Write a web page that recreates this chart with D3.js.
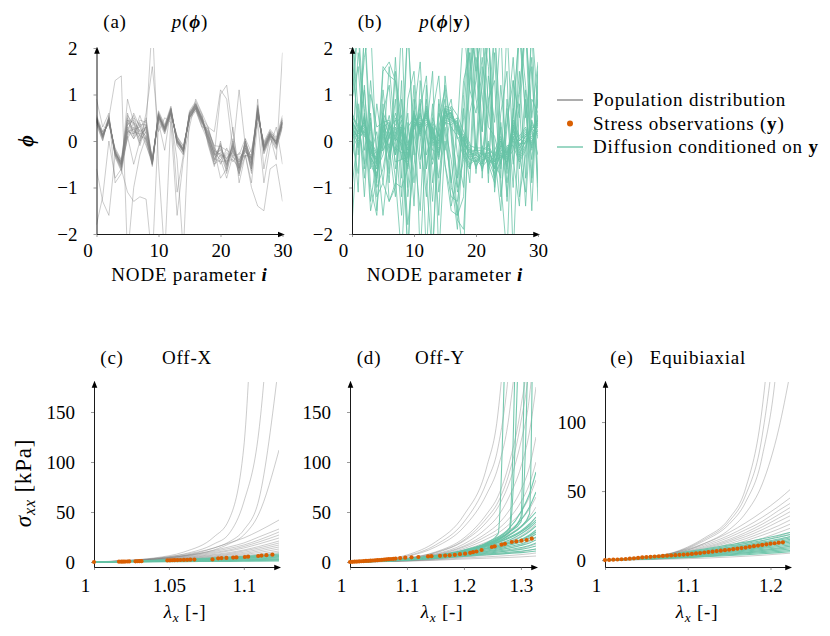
<!DOCTYPE html>
<html lang="en">
<head>
<meta charset="UTF-8">
<title>Population distribution vs diffusion samples</title>
<script src="https://cdn.jsdelivr.net/npm/d3@7"></script>
<style>
  body { margin: 0; background: #fff; }
  svg { font-family: "Liberation Serif", "DejaVu Serif", serif; }
  .word { letter-spacing: 0.8px; }
</style>
</head>
<body>
<div id="chart"></div>
<script>
// ---------- data: NODE parameter samples (panels a, b) ----------
var nodeIdx = [0,1,2,3,4,5,6,7,8,9,10,11,12,13,14,15,16,17,18,19,20,21,22,23,24,25,26,27,28,29,30];
var nodeTicks = [0, 10, 20, 30];
var phiTicks = [-2, -1, 0, 1, 2];
var phiTickLabels = ["\u22122", "\u22121", "0", "1", "2"];

// population samples p(phi)
var popSamples = [
  [0.50,0.12,0.42,-0.22,-0.48,0.35,0.55,0.10,0.30,-0.40,0.52,0.22,0.62,0.05,-0.18,0.50,0.72,0.42,0.15,-0.28,-0.15,-0.40,-0.10,-0.45,-0.05,-0.40,0.60,-0.10,0.18,-0.02,0.42],
  [0.40,0.08,0.48,-0.30,-0.55,0.20,0.15,0.40,0.05,-0.50,0.58,0.28,0.68,-0.05,-0.22,0.58,0.78,0.50,0.05,-0.35,-0.25,-0.50,-0.20,-0.55,-0.15,-0.50,0.70,-0.20,0.12,-0.08,0.38],
  [0.48,0.15,0.40,-0.20,-0.42,0.45,0.25,0.30,0.45,-0.42,0.50,0.20,0.60,0.02,-0.15,0.52,0.70,0.38,0.20,-0.20,-0.30,-0.35,-0.25,-0.40,-0.20,-0.38,0.58,-0.05,0.20,0.05,0.48],
  [0.42,0.05,0.50,-0.28,-0.58,0.10,0.40,0.00,0.20,-0.48,0.60,0.30,0.70,-0.02,-0.25,0.60,0.80,0.55,0.00,-0.45,-0.10,-0.55,-0.05,-0.62,0.00,-0.55,0.72,-0.22,0.10,-0.12,0.35],
  [0.46,0.10,0.45,-0.25,-0.50,0.30,0.05,0.25,0.10,-0.45,0.55,0.25,0.65,0.00,-0.20,0.55,0.75,0.45,0.25,-0.15,-0.35,-0.30,-0.30,-0.35,-0.25,-0.30,0.65,-0.15,0.15,-0.05,0.40],
  [0.52,0.18,0.38,-0.18,-0.45,0.55,0.35,-0.10,0.35,-0.38,0.48,0.18,0.58,0.08,-0.12,0.48,0.68,0.35,0.08,-0.40,-0.05,-0.60,0.00,-0.65,-0.10,-0.60,0.55,-0.08,0.22,0.02,0.50],
  [0.38,0.02,0.52,-0.32,-0.62,0.25,0.50,0.35,-0.05,-0.52,0.62,0.32,0.72,-0.08,-0.28,0.62,0.82,0.48,0.12,-0.25,-0.40,-0.25,-0.35,-0.45,-0.30,-0.35,0.75,-0.25,0.08,-0.15,0.32],
  [0.44,0.12,0.44,-0.24,-0.52,0.40,0.20,0.15,0.25,-0.44,0.54,0.24,0.64,0.01,-0.19,0.54,0.74,0.44,0.18,-0.32,-0.18,-0.48,-0.12,-0.52,-0.08,-0.48,0.62,-0.12,0.16,-0.04,0.44],
  [0.50,0.08,0.46,-0.26,-0.46,0.15,0.60,0.30,0.00,-0.46,0.56,0.26,0.66,-0.01,-0.21,0.56,0.76,0.52,-0.05,-0.50,-0.30,-0.65,-0.18,-0.70,-0.15,-0.65,0.68,-0.18,0.14,-0.06,0.38],
  [0.42,0.14,0.43,-0.23,-0.49,0.50,0.10,0.45,0.40,-0.47,0.53,0.23,0.63,0.03,-0.17,0.53,0.73,0.40,0.22,-0.10,-0.12,-0.20,-0.28,-0.30,0.05,-0.25,0.63,-0.13,0.17,0.00,0.45],
  [0.47,0.11,0.47,-0.27,-0.53,0.05,0.30,-0.05,0.50,-0.43,0.57,0.27,0.67,-0.03,-0.23,0.57,0.77,0.46,0.02,-0.38,-0.45,-0.42,-0.40,-0.58,-0.22,-0.42,0.66,-0.16,0.13,-0.07,0.41],
  [0.45,0.09,0.45,-0.25,-0.51,0.35,0.45,0.20,-0.10,-0.45,0.55,0.25,0.65,0.00,-0.20,0.55,0.75,0.45,0.10,-0.30,-0.20,-0.45,-0.15,-0.50,-0.10,-0.45,0.65,-0.15,0.15,-0.05,0.40],
  [0.55,0.20,0.35,-0.15,-0.40,0.60,0.15,0.55,0.15,-0.35,0.45,0.15,0.55,0.10,-0.10,0.45,0.65,0.30,0.28,-0.12,-0.50,-0.15,-0.45,-0.25,-0.35,-0.20,0.50,-0.02,0.25,0.08,0.55],
  [0.35,0.00,0.55,-0.35,-0.65,0.20,0.25,0.05,0.30,-0.55,0.65,0.35,0.75,-0.10,-0.30,0.65,0.85,0.58,-0.08,-0.55,0.00,-0.70,0.05,-0.75,0.05,-0.70,0.78,-0.28,0.05,-0.18,0.30],
  [0.48,0.06,0.49,-0.21,-0.56,0.45,0.40,0.10,0.05,-0.41,0.59,0.21,0.61,0.04,-0.24,0.51,0.71,0.43,0.16,-0.22,-0.28,-0.38,-0.22,-0.42,-0.18,-0.52,0.61,-0.11,0.19,-0.09,0.46],
  [0.43,0.13,0.41,-0.29,-0.44,0.25,0.05,0.35,0.35,-0.49,0.51,0.29,0.69,-0.04,-0.16,0.59,0.79,0.47,0.06,-0.42,-0.08,-0.52,-0.08,-0.58,-0.02,-0.38,0.69,-0.19,0.11,-0.01,0.36],
  [0.40,0.20,0.50,1.30,1.40,-2.50,-1.00,-0.30,0.10,-0.50,0.50,0.30,0.60,0.10,-0.20,0.50,0.70,0.40,0.10,-0.30,1.00,1.20,0.20,-0.60,0.00,-0.40,0.60,-0.20,0.10,0.00,0.40],
  [-0.60,-1.30,-1.60,-0.30,-0.60,-1.10,-1.30,-1.20,-1.25,-2.60,0.40,-0.20,0.70,-1.10,-0.30,0.50,0.70,0.30,0.00,-0.50,-0.40,-0.80,-0.30,-0.70,-0.30,-1.00,-1.40,-1.50,-0.60,-0.50,-1.30],
  [-1.80,-1.20,0.00,-0.80,-0.60,0.90,0.40,0.20,0.30,2.60,-0.50,-2.50,0.50,-0.40,-2.40,0.60,0.80,0.50,0.30,0.20,1.10,0.90,-0.20,1.10,-0.10,-0.60,0.90,-0.60,0.10,-0.40,1.90],
  [0.90,0.30,0.60,-0.90,-0.70,0.10,-0.50,0.00,0.60,1.60,0.20,0.50,0.40,-1.60,-0.40,0.30,0.90,0.60,0.30,-0.20,-0.80,-0.60,0.30,-0.90,-0.30,-0.90,0.40,-0.90,-0.10,0.30,-0.50]
];

// diffusion samples conditioned on y, p(phi|y)
var diffSamples = [
  [0.40,0.15,0.35,-0.10,-0.45,0.30,0.40,0.00,0.20,-0.20,0.50,0.25,0.60,0.05,-0.05,0.65,0.60,0.25,0.00,-0.25,-0.20,-0.30,-0.25,-0.45,-0.10,-0.30,0.25,-0.10,0.10,0.15,0.40],
  [0.20,-0.05,0.45,-0.35,-0.60,0.10,-0.10,0.30,-0.15,-0.45,0.35,0.40,0.45,0.20,-0.25,0.50,0.45,0.40,-0.15,-0.40,-0.35,-0.50,-0.15,-0.60,-0.30,-0.45,0.10,-0.30,0.00,0.25,0.20],
  [0.55,0.25,0.20,-0.05,-0.30,0.45,0.15,-0.20,0.35,-0.10,0.60,0.15,0.70,-0.05,0.05,0.70,0.65,0.15,0.10,-0.15,-0.45,-0.20,-0.45,-0.35,0.00,-0.55,0.35,0.00,0.20,-0.05,0.50],
  [0.30,0.05,0.50,-0.40,-0.70,-0.10,0.25,0.45,0.00,-0.55,0.40,0.35,0.50,0.25,-0.30,0.55,0.50,0.35,-0.30,-0.55,-0.10,-0.60,-0.05,-0.70,-0.20,-0.25,0.05,-0.35,-0.10,0.30,0.25],
  [0.45,0.00,0.25,-0.25,-0.40,0.55,-0.25,0.10,0.45,-0.35,0.55,0.20,0.65,0.00,-0.15,0.62,0.58,0.20,0.05,-0.35,-0.30,-0.40,-0.35,-0.55,-0.05,-0.40,0.30,-0.20,0.15,0.05,0.45],
  [0.10,0.20,0.40,-0.15,-0.55,0.00,0.55,-0.15,-0.25,-0.25,0.30,0.45,0.40,0.30,-0.20,0.45,0.40,0.50,-0.10,-0.20,-0.55,-0.25,-0.50,-0.40,-0.35,-0.20,0.15,-0.05,-0.05,0.35,0.15],
  [0.60,0.30,0.15,-0.30,-0.35,0.35,0.05,0.60,0.10,-0.15,0.65,0.10,0.75,-0.10,0.00,0.75,0.70,0.05,0.15,-0.10,-0.15,-0.15,-0.20,-0.30,0.05,-0.60,0.40,0.05,0.25,-0.10,0.55],
  [0.35,-0.10,0.55,-0.45,-0.75,0.25,-0.35,0.20,-0.35,-0.50,0.45,0.50,0.35,0.35,-0.35,0.40,0.35,0.45,-0.25,-0.50,-0.40,-0.55,-0.40,-0.75,-0.40,-0.15,0.00,-0.40,-0.15,0.40,0.10],
  [0.25,0.10,0.30,-0.20,-0.50,0.60,0.30,-0.30,0.25,-0.40,0.50,0.30,0.55,0.10,-0.10,0.60,0.55,0.30,-0.05,-0.30,-0.25,-0.35,-0.30,-0.50,-0.15,-0.35,0.20,-0.15,0.05,0.10,0.35],
  [0.50,0.35,0.10,0.00,-0.25,-0.20,0.10,0.35,0.55,-0.05,0.25,0.55,0.30,0.40,0.10,0.35,0.75,0.55,0.20,-0.05,-0.60,-0.10,-0.55,-0.20,0.10,-0.50,0.45,0.10,0.30,-0.15,0.60],
  [0.15,-0.15,0.60,-0.50,-0.80,0.40,0.45,0.05,-0.05,-0.60,0.55,0.20,0.60,0.15,-0.40,0.68,0.30,0.10,-0.35,-0.60,-0.05,-0.65,0.00,-0.80,-0.45,-0.10,-0.10,-0.45,-0.20,0.45,0.05],
  [0.45,0.15,0.35,-0.15,-0.45,0.15,-0.15,0.25,0.30,-0.30,0.40,0.35,0.50,0.05,-0.05,0.55,0.60,0.35,0.00,-0.25,-0.30,-0.45,-0.25,-0.45,-0.10,-0.30,0.25,-0.10,0.10,0.20,0.30],
  [0.30,0.05,0.20,-0.35,-0.60,-0.30,0.35,-0.45,-0.40,-0.35,0.35,0.30,0.55,-0.20,-0.25,0.50,0.62,0.25,-0.20,-0.40,-0.45,-0.30,-0.35,-0.60,-0.25,-0.45,0.10,-0.25,0.00,0.00,0.25],
  [0.40,0.20,0.40,-0.05,-0.40,0.50,-0.40,0.50,0.15,-0.20,0.60,0.25,0.65,0.20,0.00,0.65,0.50,0.40,0.10,-0.20,-0.20,-0.20,-0.10,-0.35,0.00,-0.25,0.35,0.00,0.15,0.25,0.45],
  [1.20,2.50,0.50,-1.50,-0.80,1.50,1.70,1.30,0.50,-2.50,0.30,0.60,0.10,-0.50,0.20,0.70,0.30,-0.80,0.50,2.50,1.50,2.50,0.80,-0.60,0.30,-1.20,0.60,2.40,0.50,1.80,-1.30],
  [-1.80,0.30,1.80,2.50,-0.50,1.60,1.40,1.30,-0.80,2.50,-0.20,-1.50,1.20,-2.50,0.50,1.10,-1.00,-1.40,-2.50,1.50,2.50,0.20,2.50,-0.30,-1.50,0.90,-0.50,1.00,2.50,-0.80,1.60],
  [2.50,-0.30,1.20,-1.00,-1.60,0.80,-1.30,-0.90,-1.00,-0.60,1.20,-2.50,0.20,1.50,-2.50,0.00,-0.80,-1.90,0.10,-0.90,1.80,1.00,-0.70,1.90,-0.90,-2.50,1.30,-1.20,-0.30,2.50,-0.90],
  [0.90,1.60,-0.20,0.60,-1.20,-0.90,-1.30,-1.00,1.30,-2.50,0.90,0.10,-1.20,0.60,1.40,-0.50,-1.50,-1.60,1.00,2.50,-0.30,2.50,1.60,-1.00,0.60,1.50,-2.50,0.80,-1.40,0.90,0.60],
  [0.00,-0.70,2.50,-0.30,0.20,-0.90,0.40,-0.30,2.50,-1.20,0.00,0.90,-0.90,-2.50,0.80,-0.50,-1.20,-1.30,-0.20,1.20,2.50,-0.80,1.40,0.40,2.50,-1.30,0.70,-0.60,1.10,-1.50,1.50],
  [-0.40,0.80,-1.20,1.00,0.30,0.40,-0.90,1.80,-0.40,0.60,-1.40,1.30,-0.30,0.20,-1.60,1.40,0.10,-1.60,-1.20,1.90,-0.70,1.60,-0.90,2.50,-0.60,0.70,-1.00,2.50,0.60,-0.40,0.90],
  [2.50,0.60,-0.80,0.40,-1.00,-0.60,0.20,-0.80,-2.50,0.30,0.50,-0.60,0.90,-0.40,0.60,0.20,-0.90,0.30,2.50,1.10,0.60,1.80,0.30,0.10,-0.50,0.40,1.30,0.50,2.50,0.20,-0.30],
  [-0.30,1.90,0.70,-1.30,-0.40,0.60,1.20,-0.60,0.30,-1.80,-0.50,0.40,-0.60,0.80,-1.10,0.30,-0.40,-1.70,-1.90,0.60,1.30,2.50,-0.50,-0.90,1.20,-0.40,-0.20,1.50,-0.80,2.50,0.70],
  [0.60,-1.10,2.50,0.20,-1.50,0.30,-0.70,1.50,-0.20,2.50,-0.30,0.80,-2.50,0.50,0.10,1.20,0.20,-1.10,-0.40,2.50,0.90,0.20,2.50,-0.40,-0.80,2.50,-0.40,-1.40,0.90,-0.90,1.20],
  [1.60,0.40,-0.50,1.30,-0.20,-1.60,-0.30,0.90,-1.20,0.90,1.50,-0.40,0.30,-1.30,0.90,-0.20,0.60,-1.00,0.70,-0.60,2.50,-0.30,0.90,1.30,-1.20,0.30,1.80,-0.30,-1.10,1.60,-1.00],
  [-1.00,0.20,1.10,-0.60,0.80,-0.20,1.60,0.10,-1.60,0.40,-0.90,0.70,1.40,-0.90,0.30,0.90,-1.40,-0.70,1.30,1.90,-0.20,1.20,2.50,-1.10,0.40,-0.70,0.50,2.50,1.20,-0.20,0.40],
  [0.80,2.50,-0.60,0.50,-0.90,1.10,-0.10,-1.20,0.90,-1.00,0.60,1.70,-0.60,0.30,-0.80,0.50,0.90,-0.30,-1.00,2.50,1.70,-0.50,0.60,2.50,0.10,-0.90,0.20,1.10,2.50,0.50,1.70]
];

// ---------- data: stress-stretch curves (panels c, d, e) ----------
var stressTicks = [0, 50, 100, 150];
var offXTicks = [1, 1.05, 1.1], offXTickLabels = ["1", "1.05", "1.1"];
var offYTicks = [1, 1.1, 1.2, 1.3], offYTickLabels = ["1", "1.1", "1.2", "1.3"];
var equiTicks = [1, 1.1, 1.2], equiTickLabels = ["1", "1.1", "1.2"];
var equiStressTicks = [0, 50, 100];

// Off-X
var offXStretch = [1.00, 1.02, 1.04, 1.06, 1.08, 1.09, 1.10, 1.11, 1.1235];
var offXPop = [
  [0, 1.5, 4, 10, 25, 42, 115, 400, 800],
  [0, 1.2, 3.5, 8, 18, 28, 60, 130, 400],
  [0, 1, 3, 6.5, 14, 20, 32, 62, 200],
  [0, 1, 2.8, 6, 12, 18, 27, 48, 112],
  [0, 1.2, 3.5, 7.5, 14, 19, 24, 31, 42],
  [0, 1, 3, 6.5, 11.5, 15, 19, 25, 33],
  [0, 0.9, 2.8, 6, 10.5, 13.5, 17, 22, 30],
  [0, 0.8, 2.5, 5.5, 9.5, 12, 15.5, 20, 27],
  [0, 0.8, 2.2, 5, 8.5, 11, 14, 18, 24],
  [0, 0.7, 2, 4.5, 7.5, 9.5, 12, 15.5, 21],
  [0, 0.6, 1.8, 4, 6.8, 8.5, 11, 14, 19],
  [0, 0.6, 1.7, 3.6, 6, 7.6, 9.7, 12.5, 17],
  [0, 0.5, 1.5, 3.2, 5.4, 6.8, 8.5, 11, 15],
  [0, 0.5, 1.3, 2.8, 4.6, 5.8, 7.4, 9.5, 13],
  [0, 0.4, 1.1, 2.4, 4, 5, 6.3, 8, 11],
  [0, 0.3, 1, 2, 3.4, 4.3, 5.4, 7, 9.5],
  [0, 0.3, 0.8, 1.7, 2.9, 3.6, 4.6, 5.9, 8],
  [0, 0.3, 0.7, 1.4, 2.4, 3, 3.8, 4.8, 6.5]
];
var offXDiff = [
  [0, 0.1, 0.22, 0.36, 0.52, 0.62, 0.72, 0.83, 1],
  [0, 0.18, 0.4, 0.65, 0.94, 1.1, 1.3, 1.5, 1.8],
  [0, 0.25, 0.55, 0.9, 1.3, 1.55, 1.8, 2.1, 2.5],
  [0, 0.32, 0.7, 1.15, 1.66, 2, 2.3, 2.65, 3.2],
  [0, 0.4, 0.9, 1.45, 2.1, 2.5, 2.9, 3.3, 4],
  [0, 0.48, 1.05, 1.7, 2.5, 3, 3.45, 4, 4.8],
  [0, 0.55, 1.2, 2, 2.85, 3.4, 3.95, 4.55, 5.5],
  [0, 0.63, 1.4, 2.25, 3.3, 3.9, 4.55, 5.2, 6.3],
  [0, 0.7, 1.55, 2.5, 3.65, 4.35, 5.05, 5.8, 7],
  [0, 0.8, 1.75, 2.9, 4.15, 4.95, 5.75, 6.65, 8]
];
var offXObsStretch = [1.000,1.0167,1.0183,1.0195,1.0207,1.0222,1.0235,1.0277,1.0290,1.0303,1.0317,1.0490,1.0507,1.0522,1.0537,1.0557,1.0577,1.0600,1.0622,1.0643,1.0670,1.0791,1.0829,1.0851,1.0884,1.0929,1.0951,1.1007,1.1029,1.1096,1.1118,1.1151,1.1191];
var offXObsStress = [0,0.3,0.35,0.4,0.45,0.5,0.55,0.7,0.75,0.8,0.85,1.6,1.7,1.75,1.8,1.9,2.0,2.1,2.2,2.3,2.4,2.6,3.7,3.9,4.1,4.4,4.6,5.0,5.3,6.0,6.4,6.8,7.3];

// Off-Y
var offYStretch = [1.00, 1.05, 1.10, 1.15, 1.20, 1.24, 1.26, 1.28, 1.30, 1.315, 1.3265];
var offYPop = [
  [0, 2, 7, 20, 47, 95, 150, 300, 600, 1000, 1200],
  [0, 1.6, 5.5, 15, 35, 68, 95, 150, 280, 500, 800],
  [0, 1.2, 4, 10, 24, 48, 66, 100, 155, 230, 400],
  [0, 1.1, 3.5, 9, 21, 40, 55, 80, 120, 165, 240],
  [0, 1, 3.2, 8, 18, 34, 46, 66, 95, 130, 175],
  [0, 1, 3, 7.5, 16, 29, 38, 52, 72, 95, 125],
  [0, 0.9, 2.8, 7, 15, 26, 33, 44, 60, 78, 100],
  [0, 0.9, 2.6, 6.5, 13.5, 23, 29, 38, 50, 65, 82],
  [0, 0.8, 2.4, 6, 12, 20, 25, 32, 42, 53, 65],
  [0, 0.8, 2.2, 5.5, 11, 18, 22, 28, 36, 45, 55],
  [0, 0.7, 2, 5, 10, 15.5, 19, 24, 30, 37, 45],
  [0, 0.7, 1.9, 4.6, 9, 14, 17, 21, 26, 32, 38],
  [0, 0.6, 1.7, 4, 8, 12, 14, 17, 21, 25, 30],
  [0, 0.6, 1.6, 3.6, 7, 10, 12, 14, 17, 20.5, 24],
  [0, 0.5, 1.4, 3.2, 6, 8.5, 9.8, 11.5, 13.5, 15.8, 18],
  [0, 0.4, 1.2, 2.7, 5, 6.8, 7.7, 8.8, 10.2, 11.6, 13],
  [0, 0.3, 1, 2.2, 4, 5.2, 5.8, 6.5, 7.4, 8.2, 9],
  [0, 0.3, 0.8, 1.7, 3, 3.8, 4.2, 4.6, 5.1, 5.6, 6],
  [0, 1.8, 6, 17, 40, 80, 115, 200, 380, 700, 1000],
  [0, 1.1, 3.7, 9.5, 22, 44, 60, 90, 140, 200, 300]
];
var offYDiff = [
  [0, 1, 3, 6, 11, 17, 21, 27, 35, 43, 50],
  [0, 1, 3, 6, 10.5, 16, 19.5, 25, 31, 38, 45],
  [0, 0.9, 2.8, 5.6, 10, 15, 18, 22, 28, 34, 40],
  [0, 0.9, 2.7, 5.4, 9.5, 14, 16.5, 20, 25, 30.5, 36],
  [0, 0.9, 2.6, 5.2, 9, 13, 15, 18.5, 22.5, 27, 32],
  [0, 0.8, 2.5, 5, 8.5, 12, 14, 17, 20, 24, 28],
  [0, 0.8, 2.4, 4.8, 8, 11, 13, 15.5, 18, 21.5, 25],
  [0, 0.8, 2.3, 4.5, 7.5, 10.5, 12, 14, 16.5, 19, 22],
  [0, 0.7, 2.2, 4.3, 7, 9.5, 11, 12.5, 14.5, 16.5, 19],
  [0, 0.7, 2.1, 4, 6.5, 8.8, 10, 11.2, 12.6, 14.2, 16],
  [0, 0.7, 2, 3.8, 6, 8, 8.8, 9.8, 10.8, 12, 13],
  [0, 0.6, 1.9, 3.5, 5.5, 7.2, 7.9, 8.6, 9.4, 10.2, 11],
  [0, 1, 3.1, 6.2, 11, 16.5, 20, 24, 30, 36, 42],
  [0, 0.9, 2.6, 5.3, 9.2, 13.5, 15.5, 19, 22, 26, 30],
  [0, 1, 3.2, 6.5, 12, 19, 25, 34, 50, 68, 90],
  [0, 1, 3, 6.2, 11.5, 18, 23, 30, 42, 55, 70],
  [0, 1, 3, 6, 11, 19, 28, 400, 800, 1000, 1200],
  [0, 1, 3, 6, 11, 18, 24, 34, 500, 900, 1200],
  [0, 1, 3, 6, 11, 17, 22, 30, 45, 600, 1000],
  [0, 1, 3, 6, 11, 17, 22, 30, 40, 300, 1000],
  [0, 1, 3, 6, 10.5, 16, 20, 27, 35, 48, 600],
  [0, 1, 3, 6, 11, 18, 23, 31, 300, 700, 1000]
];
var offYObsStretch = [1.000,1.004,1.008,1.012,1.016,1.020,1.024,1.028,1.032,1.036,1.040,1.044,1.048,1.052,1.056,1.060,1.064,1.068,1.072,1.076,1.080,1.088,1.097,1.108,1.120,1.137,1.143,1.158,1.167,1.175,1.184,1.193,1.202,1.211,1.216,1.222,1.231,1.249,1.254,1.266,1.272,1.284,1.292,1.301,1.310,1.319];
var offYObsStress = [0,0.15,0.3,0.45,0.6,0.75,0.9,1.05,1.2,1.35,1.5,1.65,1.8,2.0,2.2,2.4,2.6,2.8,3.0,3.2,3.4,3.9,4.3,4.7,5.0,5.6,5.8,6.2,6.4,6.7,7.2,7.8,8.3,9.2,9.8,10.5,12.0,15.0,15.7,17.3,18.2,20.0,20.6,21.3,22.0,23.3];

// Equibiaxial
var equiStretch = [1.00, 1.04, 1.08, 1.12, 1.15, 1.17, 1.19, 1.21, 1.2236];
var equiPop = [
  [0, 1.2, 5, 16, 30, 52, 110, 250, 400],
  [0, 1.1, 4.7, 15, 28, 47, 90, 200, 350],
  [0, 1.1, 4.5, 14, 26, 42, 75, 160, 300],
  [0, 1, 4, 12, 22, 34, 55, 95, 135],
  [0, 1.5, 5, 12, 20, 27, 35, 44, 51],
  [0, 1.4, 4.6, 11, 18, 24, 31, 39, 45],
  [0, 1.3, 4.2, 10, 16.5, 22, 28, 36, 41],
  [0, 1.2, 4, 9.2, 15, 20, 26, 33, 38],
  [0, 1.1, 3.7, 8.5, 14, 18.5, 24, 30.5, 35],
  [0, 1, 3.4, 7.8, 13, 17, 22, 28, 32],
  [0, 1, 3.1, 7, 11.8, 15.5, 20, 25, 29],
  [0, 0.9, 2.8, 6.4, 10.5, 14, 18, 22.5, 26],
  [0, 0.8, 2.5, 5.7, 9.3, 12.3, 15.7, 20, 23],
  [0, 0.7, 2.2, 5, 8.2, 10.8, 13.7, 17.4, 20],
  [0, 0.6, 1.9, 4.3, 7, 9.2, 11.6, 14.8, 17],
  [0, 0.5, 1.6, 3.6, 5.8, 7.6, 9.6, 12.2, 14],
  [0, 0.4, 1.2, 2.6, 4.2, 5.4, 6.9, 8.7, 10],
  [0, 0.2, 0.7, 1.4, 2.2, 2.8, 3.5, 4.4, 5]
];
var equiDiff = [
  [0, 0.54, 1.3, 2.4, 3.3, 3.9, 4.6, 5.4, 6],
  [0, 0.63, 1.5, 2.8, 3.85, 4.55, 5.4, 6.3, 7],
  [0, 0.72, 1.75, 3.2, 4.4, 5.2, 6.15, 7.2, 8],
  [0, 0.8, 2, 3.6, 4.95, 5.85, 6.9, 8.1, 9],
  [0, 0.9, 2.2, 4, 5.5, 6.5, 7.7, 9, 10],
  [0, 1, 2.4, 4.4, 6, 7.15, 8.5, 9.9, 11],
  [0, 1.1, 2.6, 4.8, 6.6, 7.8, 9.2, 10.8, 12],
  [0, 1.2, 2.85, 5.2, 7.15, 8.45, 10, 11.7, 13],
  [0, 1.25, 3.1, 5.6, 7.7, 9.1, 10.8, 12.6, 14],
  [0, 1.35, 3.3, 6, 8.25, 9.75, 11.55, 13.5, 15],
  [0, 1.45, 3.5, 6.4, 8.8, 10.4, 12.3, 14.4, 16],
  [0, 1.5, 3.75, 6.8, 9.35, 11.05, 13.1, 15.3, 17],
  [0, 1.65, 4.05, 7.4, 10.2, 12, 14.2, 16.6, 18.5],
  [0, 1.8, 4.4, 8, 11, 13, 15.4, 18, 20]
];
var equiObsStretch = [1.000,1.005,1.010,1.015,1.020,1.025,1.030,1.035,1.040,1.045,1.050,1.055,1.060,1.065,1.070,1.075,1.080,1.085,1.090,1.095,1.100,1.105,1.110,1.115,1.120,1.125,1.130,1.135,1.140,1.145,1.150,1.155,1.160,1.165,1.170,1.175,1.180,1.185,1.190,1.195,1.200,1.205,1.210,1.215];
var equiObsStress = [0,0.15,0.3,0.45,0.6,0.8,1.0,1.3,1.6,1.9,2.2,2.4,2.6,2.8,3.0,3.2,3.4,3.6,3.8,4.0,4.2,4.5,4.8,5.1,5.5,5.8,6.1,6.5,6.8,7.2,7.5,7.9,8.3,8.7,9.1,9.6,10.1,10.5,11.0,11.4,11.9,12.2,12.6,12.9];

// ---------- drawing ----------
var grayCol = "#808080", greenCol = "#66c2a5", orangeCol = "#d95f02";
var W = 830, H = 636;
var FS = 19;

var svg = d3.select("#chart").append("svg")
    .attr("width", W)
    .attr("height", H);
svg.append("rect").attr("width", W).attr("height", H).attr("fill", "#fff");

var defs = svg.append("defs");
defs.append("marker")
    .attr("id", "arrow")
    .attr("viewBox", "0 -4 8 8")
    .attr("refX", 6)
    .attr("refY", 0)
    .attr("markerWidth", 7)
    .attr("markerHeight", 7)
    .attr("markerUnits", "userSpaceOnUse")
    .attr("orient", "auto")
    .append("path")
    .attr("d", "M0,-3.2L8,0L0,3.2Z")
    .attr("fill", "#000");

// write text from [string, style] parts; style flags: i italic, b bold, s subscript
function rich(sel, parts) {
  var shift = 0;
  parts.forEach(function(p) {
    var s = p[1] || "";
    var t = sel.append("tspan").text(p[0]);
    if (s.indexOf("i") >= 0) t.attr("font-style", "italic");
    if (s.indexOf("b") >= 0) t.attr("font-weight", "bold");
    if (s.indexOf("s") >= 0) {
      t.attr("font-size", "0.7em");
      if (shift === 0) { t.attr("dy", 4); shift = 4; }
    } else if (shift !== 0) {
      t.attr("dy", -shift); shift = 0;
    }
  });
  return sel;
}

function label(x, y, parts, anchor) {
  return rich(svg.append("text").attr("class", "word")
      .attr("x", x).attr("y", y)
      .attr("text-anchor", anchor || "middle")
      .attr("font-size", FS), parts);
}

function drawAxes(x, y, opt) {
  var xg = svg.append("g")
      .attr("transform", "translate(0," + y.range()[0] + ")")
      .call(d3.axisBottom(x).tickValues(opt.xt)
        .tickFormat(function(d, i) { return opt.xl[i]; })
        .tickSize(3).tickSizeOuter(0).tickPadding(opt.xpad));
  var yg = svg.append("g")
      .attr("transform", "translate(" + x.range()[0] + ",0)")
      .call(d3.axisLeft(y).tickValues(opt.yt)
        .tickFormat(function(d, i) { return opt.yl[i]; })
        .tickSize(3).tickSizeOuter(0).tickPadding(16));
  [xg, yg].forEach(function(g) {
    g.attr("font-family", null).attr("font-size", FS);
    g.select(".domain").attr("stroke", "#000").attr("stroke-width", 0.9)
      .attr("marker-end", "url(#arrow)");
    g.selectAll(".tick line").attr("stroke", "#555").attr("stroke-width", 0.6);
    g.selectAll(".tick text").attr("fill", "#000");
  });
  // first x label sits a little left of its tick, as in the original
  xg.selectAll(".tick text").filter(function(d, i) { return i === 0; }).attr("dx", -9);
}

function clipFor(id, x, y) {
  defs.append("clipPath").attr("id", id).append("rect")
    .attr("x", x.range()[0]).attr("y", y.range()[1])
    .attr("width", x.range()[1] - x.range()[0])
    .attr("height", y.range()[0] - y.range()[1]);
  return svg.append("g").attr("clip-path", "url(#" + id + ")");
}

// ----- top row: NODE parameters -----
function phiPanel(id, samples, color, opacity, x0, x1) {
  var x = d3.scaleLinear().domain([0, 30]).range([x0, x1]);
  var y = d3.scaleLinear().domain([-2, 2]).range([234, 48]);
  var line = d3.line()
      .x(function(d, i) { return x(nodeIdx[i]); })
      .y(function(d) { return y(d); });
  clipFor(id, x, y).selectAll("path")
    .data(samples).enter().append("path")
      .attr("d", line)
      .attr("fill", "none")
      .attr("stroke", color)
      .attr("stroke-opacity", opacity)
      .attr("stroke-width", 0.9)
      .attr("stroke-linejoin", "round");
  drawAxes(x, y, { xt: nodeTicks, xl: nodeTicks.map(String), yt: phiTicks, yl: phiTickLabels, xpad: 7 });
  label((x0 + x1) / 2, 281, [["NODE parameter "], ["i", "bi"]]);
}

phiPanel("clipA", popSamples, grayCol, 0.45, 96.5, 282.5);
phiPanel("clipB", diffSamples, greenCol, 0.85, 352, 538);

rich(svg.append("text").attr("transform", "translate(33,141) rotate(-90)")
    .attr("text-anchor", "middle").attr("font-size", 20), [["\u03D5", "bi"]]);

label(115, 28, [["(a)"]]);
label(190, 28, [["p", "i"], ["("], ["\u03D5", "bi"], [")"]]);
label(370, 28, [["(b)"]]);
label(445, 28, [["p", "i"], ["("], ["\u03D5", "bi"], ["|"], ["y", "b"], [")"]]);

// legend
var legendRows = [
  { kind: "line", color: grayCol, parts: [["Population distribution"]] },
  { kind: "dot", color: orangeCol, parts: [["Stress observations ("], ["y", "b"], [")"]] },
  { kind: "line", color: greenCol, parts: [["Diffusion conditioned on "], ["y", "b"]] }
];
legendRows.forEach(function(r, i) {
  var cy = 100 + i * 23.5;
  if (r.kind === "line") {
    svg.append("line").attr("x1", 557).attr("x2", 583).attr("y1", cy).attr("y2", cy)
      .attr("stroke", r.color).attr("stroke-width", 1.3);
  } else {
    svg.append("circle").attr("cx", 570).attr("cy", cy).attr("r", 3).attr("fill", r.color);
  }
  label(593, cy + 6, r.parts, "start");
});

// ----- bottom row: stress-stretch -----
function stressPanel(id, cfg) {
  var x = d3.scaleLinear().domain(cfg.xd).range(cfg.xr);
  var y = d3.scaleLinear().domain(cfg.yd).range([567, 382]);
  var line = d3.line()
      .x(function(d, i) { return x(cfg.grid[i]); })
      .y(function(d) { return y(d); })
      .curve(d3.curveMonotoneX);
  var g = clipFor(id, x, y);
  g.selectAll("path.pop").data(cfg.pop).enter().append("path")
      .attr("class", "pop")
      .attr("d", line)
      .attr("fill", "none")
      .attr("stroke", grayCol)
      .attr("stroke-opacity", 0.5)
      .attr("stroke-width", 0.8);
  g.selectAll("path.diff").data(cfg.diff).enter().append("path")
      .attr("class", "diff")
      .attr("d", line)
      .attr("fill", "none")
      .attr("stroke", greenCol)
      .attr("stroke-opacity", 0.9)
      .attr("stroke-width", 1.1);
  drawAxes(x, y, { xt: cfg.xt, xl: cfg.xl, yt: cfg.yt, yl: cfg.yt.map(String), xpad: 9 });
  svg.append("g").selectAll("circle").data(cfg.obsS).enter().append("circle")
      .attr("cx", function(d, i) { return x(cfg.obsL[i]); })
      .attr("cy", function(d) { return y(d); })
      .attr("r", 2.1)
      .attr("fill", orangeCol);
  label(cfg.lx, 618, [["\u03BB", "i"], ["x", "is"], [" [-]"]]);
  label(cfg.tx[0], 364, [[cfg.tag]]);
  label(cfg.tx[1], 364, [[cfg.title]]);
}

stressPanel("clipC", {
  xd: [1, 1.1235], xr: [94, 279], yd: [-5, 180],
  grid: offXStretch, pop: offXPop, diff: offXDiff, obsL: offXObsStretch, obsS: offXObsStress,
  xt: offXTicks, xl: offXTickLabels, yt: stressTicks,
  lx: 185, tx: [112, 187], tag: "(c)", title: "Off-X"
});
stressPanel("clipD", {
  xd: [1, 1.3265], xr: [350, 536], yd: [-5, 180],
  grid: offYStretch, pop: offYPop, diff: offYDiff, obsL: offYObsStretch, obsS: offYObsStress,
  xt: offYTicks, xl: offYTickLabels, yt: stressTicks,
  lx: 442, tx: [369, 440], tag: "(d)", title: "Off-Y"
});
stressPanel("clipE", {
  xd: [1, 1.2236], xr: [605, 790], yd: [-5, 129],
  grid: equiStretch, pop: equiPop, diff: equiDiff, obsL: equiObsStretch, obsS: equiObsStress,
  xt: equiTicks, xl: equiTickLabels, yt: equiStressTicks,
  lx: 697, tx: [622, 698], tag: "(e)", title: "Equibiaxial"
});

rich(svg.append("text").attr("class", "word").attr("transform", "translate(31,483) rotate(-90)")
    .attr("text-anchor", "middle").attr("font-size", 23),
  [["\u03C3", "i"], ["xx", "is"], [" [kPa]"]]);
</script>
</body>
</html>
